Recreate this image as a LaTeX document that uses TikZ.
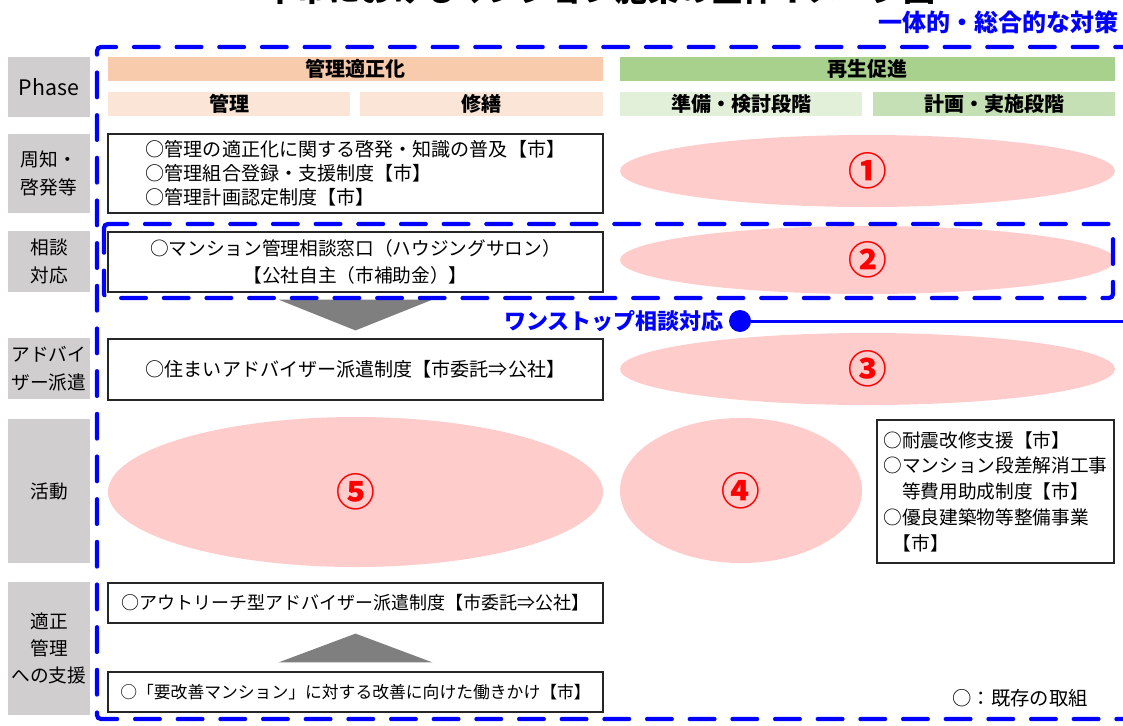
\documentclass[tikz,border=0pt]{standalone}
\usepackage{fontspec}
\setmainfont{Noto Sans CJK JP}
\usetikzlibrary{shapes.geometric,calc}
\definecolor{lblgray}{HTML}{D0CECE}
\definecolor{hdrorange}{HTML}{F8CBAD}
\definecolor{hdrorangelt}{HTML}{FBE5D6}
\definecolor{hdrgreen}{HTML}{A9D18E}
\definecolor{hdrgreenlt}{HTML}{E2F0D9}
\definecolor{hdrgreenmd}{HTML}{C5E0B4}
\definecolor{pinkfill}{HTML}{FFCCCC}
\definecolor{trigray}{HTML}{7F7F7F}
\definecolor{boxline}{HTML}{262626}
\definecolor{pureblue}{HTML}{0000FF}
\begin{document}
\begin{tikzpicture}[x=0.75pt,y=-0.75pt,
  lbl/.style={fill=lblgray, minimum width=61.5pt, inner sep=0pt, align=center, font=\fontsize{14}{20.5}\selectfont},
  hdr/.style={minimum height=18pt, inner sep=0pt, font=\bfseries\fontsize{15}{18}\selectfont},
  txtbox/.style={draw=boxline, line width=0.9pt, minimum width=371.25pt, inner sep=2pt, font=\fontsize{14.3}{18}\selectfont},
  pinkell/.style={ellipse, fill=pinkfill, inner sep=0pt, text=red, font=\bfseries\fontsize{29}{30}\selectfont},
  bluedash/.style={draw=pureblue, line width=3.2pt, dash pattern=on 18.5pt off 13.5pt, line cap=round, rounded corners=3pt},
  tri/.style={fill=trigray},
  bluetext/.style={text=pureblue, inner sep=0pt, font=\bfseries\fontsize{18}{20}\selectfont}]
\useasboundingbox (0,0) rectangle (1123,725);
\clip (0,0) rectangle (1123,725);

% clipped title (cut off at the top edge, as in the reference)
\node[inner sep=0pt, font=\bfseries\fontsize{24}{26}\selectfont] (title) at (600,-11) {本市におけるマンション施策の全体イメージ図};

% top-right blue heading
\node[bluetext, anchor=east] (ittai) at (1119,22) {一体的・総合的な対策};

% phase labels
\node[lbl, minimum height=45pt, font=\fontsize{16}{18}\selectfont] (lphase) at (49,87) {Phase};
\node[lbl, minimum height=59.25pt] (lshuchi) at (49,173.5) {周知・\\啓発等};
\node[lbl, minimum height=45.75pt] (lsodan) at (49,261.5) {相談\\対応};
\node[lbl, minimum height=45.75pt] (ladv) at (49,368.5) {アドバイ\\ザー派遣};
\node[lbl, minimum height=108pt] (lkatsu) at (49,491) {活動};
\node[lbl, minimum height=99.75pt] (lshien) at (49,648.5) {適正\\管理\\への支援};

% headers
\node[hdr, fill=hdrorange, minimum width=371.25pt] (hkanri) at (355.5,69) {管理適正化};
\node[hdr, fill=hdrorangelt, minimum width=181.5pt] (hk1) at (229,104) {管理};
\node[hdr, fill=hdrorangelt, minimum width=182.25pt] (hk2) at (481.5,104) {修繕};
\node[hdr, fill=hdrgreen, minimum width=371.25pt] (hsaisei) at (867.5,69) {再生促進};
\node[hdr, fill=hdrgreenlt, minimum width=181.5pt] (hs1) at (741,104) {準備・検討段階};
\node[hdr, fill=hdrgreenmd, minimum width=181.5pt] (hs2) at (994,104) {計画・実施段階};

% ellipses
\node[pinkell, minimum width=371.25pt, minimum height=54pt] (e1) at (867.5,171) {①};
\node[pinkell, minimum width=371.25pt, minimum height=51pt] (e2) at (867.5,260) {②};
\node[pinkell, minimum width=371.25pt, minimum height=54pt] (e3) at (867.5,369) {③};
\node[pinkell, minimum width=181.5pt, minimum height=108.75pt] (e4) at (741,490.5) {④};
\node[pinkell, minimum width=371.25pt, minimum height=112.5pt] (e5) at (355.5,492) {⑤};

% text boxes
\node[txtbox, minimum height=59.25pt, align=left] (b1) at (355.5,173.5)
  {○管理の適正化に関する啓発・知識の普及【市】\\○管理組合登録・支援制度【市】\\○管理計画認定制度【市】};
\node[txtbox, minimum height=45pt, align=center, font=\fontsize{14}{20}\selectfont] (b2) at (355.5,262)
  {○マンション管理相談窓口（ハウジングサロン）\\【公社自主（市補助金）】};
\node[txtbox, minimum height=45.75pt] (b3) at (355.5,369.5) {○住まいアドバイザー派遣制度【市委託⇒公社】};
\node[txtbox, minimum width=177.75pt, minimum height=107.25pt, inner sep=1pt, align=left, font=\fontsize{14}{19.3}\selectfont] (b4) at (995.5,491.5)
  {○耐震改修支援【市】\\○マンション段差解消工事\\\hspace*{1em}等費用助成制度【市】\\○優良建築物等整備事業\\\hspace*{0.5em}【市】};
\node[txtbox, minimum height=30pt, font=\fontsize{13.5}{16}\selectfont] (b5) at (355.5,603) {○アウトリーチ型アドバイザー派遣制度【市委託⇒公社】};
\node[txtbox, minimum height=30pt, font=\fontsize{12.6}{15}\selectfont] (b6) at (355.5,692) {○「要改善マンション」に対する改善に向けた働きかけ【市】};

% triangles
\fill[tri] ($(b2.south)+(-77,7)$) -- ($(b2.south)+(77,7)$) -- ($(b3.north)+(0,-8)$) -- cycle;
\fill[tri] ($(b6.north)+(-77,-9)$) -- ($(b6.north)+(77,-9)$) -- ($(b5.south)+(0,10)$) -- cycle;

% dashed frames
\draw[bluedash] (1140,47) -- (97,47) -- (97,719) -- (1140,719);
\draw[bluedash] (104,224) rectangle (1113,298);

% one-stop label and line
\node[bluetext, anchor=east, font=\bfseries\fontsize{16.5}{18}\selectfont] (onestop) at (724,321) {ワンストップ相談対応};
\node[circle, fill=pureblue, minimum size=16.5pt, inner sep=0pt] (dot) at (740,321) {};
\coordinate (lineend) at (1130,321);
\draw[pureblue, line width=2.25pt] (dot) -- (lineend);

% legend
\node[inner sep=0pt, font=\fontsize{14.5}{16}\selectfont] (legend) at (1020,698) {○：既存の取組};
\end{tikzpicture}
\end{document}
